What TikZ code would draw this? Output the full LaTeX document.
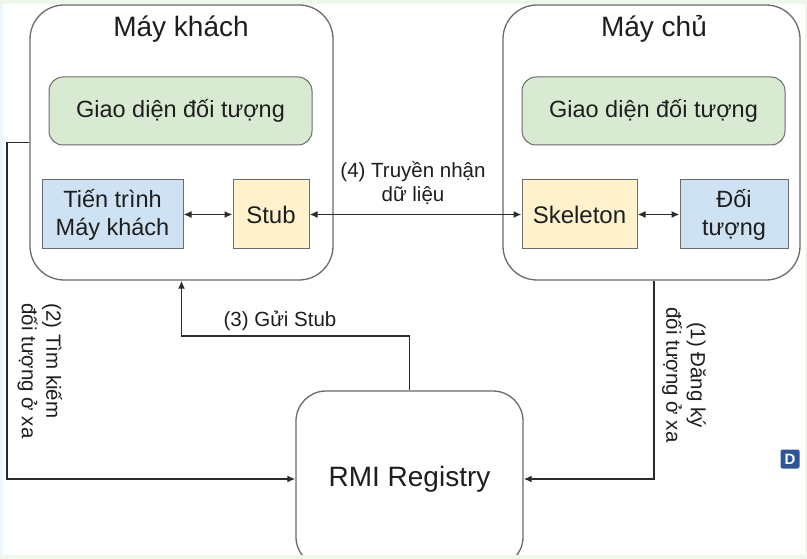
\documentclass[tikz,border=0pt]{standalone}
\usepackage{fontspec}
\setmainfont{Liberation Sans}
\usetikzlibrary{arrows.meta}
\definecolor{edgegray}{HTML}{6B6B6B}
\definecolor{linedark}{HTML}{2B2B2B}
\definecolor{txt}{HTML}{1E1E1E}
\definecolor{gfill}{HTML}{D9EAD3}
\definecolor{bfill}{HTML}{CFE2F3}
\definecolor{yfill}{HTML}{FFF2CC}
\definecolor{stripg}{HTML}{EEF7EA}
\definecolor{stripb}{HTML}{EEF5FC}
\definecolor{badge}{HTML}{2D5597}
\tikzset{
  outerbox/.style={draw=edgegray, line width=1.3pt, rounded corners=34pt, fill=white, inner sep=0pt},
  greenbox/.style={draw=edgegray, line width=1pt, rounded corners=14pt, fill=gfill, inner sep=0pt, text=txt, font=\fontsize{23.5}{28}\selectfont},
  bluebox/.style={draw=edgegray, line width=1pt, fill=bfill, inner sep=0pt, text=txt, align=center, font=\fontsize{23.5}{28}\selectfont},
  yellowbox/.style={draw=edgegray, line width=1pt, fill=yfill, inner sep=0pt, text=txt, font=\fontsize{24}{28}\selectfont},
  titletext/.style={text=txt, font=\fontsize{28}{32}\selectfont, inner sep=0pt},
  lbl/.style={text=txt, font=\fontsize{20.5}{24.5}\selectfont, inner sep=0pt},
  conn/.style={draw=linedark, line width=1.8pt},
  tip/.style={-{Latex[length=8pt,width=7pt]}},
  twotip/.style={{Latex[length=8pt,width=7pt]}-{Latex[length=8pt,width=7pt]}}
}
\begin{document}
\begin{tikzpicture}[x=1pt,y=-1pt]
\useasboundingbox (0,0) rectangle (807,559);
\fill[white] (0,0) rectangle (807,559);

% containers
\node[outerbox, minimum width=303pt, minimum height=275pt] (client) at (181.5,142.5) {};
\node[outerbox, minimum width=297pt, minimum height=275pt] (server) at (651.5,142.5) {};
\node[outerbox, rounded corners=30pt, minimum width=227pt, minimum height=176pt, text=txt, font=\fontsize{28}{32}\selectfont] (rmi) at (409.5,479) {RMI Registry};

\node[titletext, anchor=base] (ctitle) at (181,37) {Máy khách};
\node[titletext, anchor=base] (stitle) at (654,37) {Máy chủ};

\node[greenbox, minimum width=263pt, minimum height=68pt] (cgi) at (180.5,111) {Giao diện đối tượng};
\node[greenbox, minimum width=263pt, minimum height=68pt] (sgi) at (653.5,111) {Giao diện đối tượng};

\node[bluebox, minimum width=141pt, minimum height=69pt] (proc) at (112.5,214.5) {Tiến trình\\Máy khách};
\node[yellowbox, minimum width=76pt, minimum height=69pt] (stub) at (271,214.5) {Stub};
\node[yellowbox, minimum width=115pt, minimum height=69pt] (skel) at (579.5,214.5) {Skeleton};
\node[bluebox, minimum width=108pt, minimum height=69pt] (obj) at (734,214.5) {Đối\\tượng};

% connectors
\draw[conn, twotip] (proc) -- (stub);
\draw[conn, twotip] (stub) -- (skel);
\draw[conn, twotip] (skel) -- (obj);
\draw[conn, tip] (client.west) -- ++(-22,0) |- (rmi.west);
\draw[conn, tip] (rmi.north) -- ++(0,-54) -| (client.south);
\draw[conn, tip] ([xshift=2.5pt]server.south) |- (rmi.east);

% labels
\node[lbl, align=center] (l4) at (413,183) {(4) Truyền nhận\\dữ liệu};
\node[lbl] (l3) at (280,321) {(3) Gửi Stub};
\node[lbl, align=left, rotate=-90] (l2) at (40,371) {(2) Tìm kiếm\\đối tượng ở xa};
\node[lbl, align=center, rotate=-90] (l1) at (684,375) {(1) Đăng ký\\đối tượng ở xa};

% badge
\node[fill=badge, rounded corners=2pt, minimum width=19pt, minimum height=19pt, inner sep=0pt, text=white, font=\fontsize{15}{15}\selectfont\bfseries] (badgeD) at (790,459) {D};

% frame strips
\fill[stripg] (0,0) rectangle (807,4);
\fill[stripg] (0,555) rectangle (807,559);
\fill[stripb] (0,4) rectangle (3,555);
\fill[stripg] (805,4) rectangle (807,555);
\end{tikzpicture}
\end{document}
